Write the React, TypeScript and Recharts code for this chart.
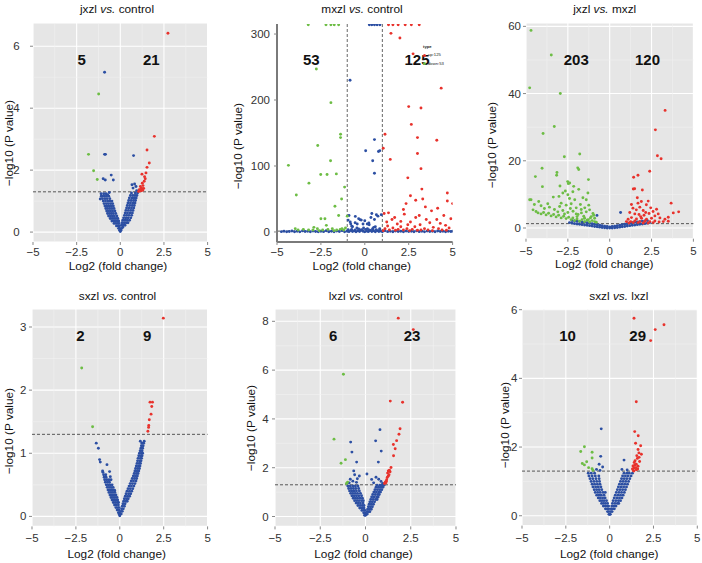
import React from 'react';
import { ScatterChart, Scatter, XAxis, YAxis, CartesianGrid, ReferenceLine } from 'recharts';

type P = [number, number];

const BLUE = '#2c4fa3';
const GREEN = '#6dbd45';
const RED = '#e8322c';
const FONT = '"Liberation Sans", Arial, Helvetica, sans-serif';

// ---------- shared axis values ----------
const xTicks = [-5, -2.5, 0, 2.5, 5];
const xMinor = [-3.75, -1.25, 1.25, 3.75];

// ---------- Panel 1: jxzl vs. control ----------
const p1Red: P[] = [[2.73,6.42],[1.95,3.09],[1.53,2.65],[1.66,2.23],[1.53,2.09],[1.47,1.91],[1.39,1.79],[1.24,1.87],[1.37,1.64],[1.26,1.58],[1.15,1.47],[1.24,1.4],[1.09,1.37],[1.34,1.41],[1.3,1.5],[1.43,1.72],[1.18,1.33],[1.05,1.31],[1.2,1.42],[1.12,1.36],[1.28,1.35]];
const p1Green: P[] = [[-1.24,4.46],[-1.82,2.51],[-1.53,1.98],[-1.32,1.7]];
const p1Blue: P[] = [
  [-0.9,5.16],[-0.9,2.51],[-0.85,2.51],[0.76,2.47],[-0.98,1.72],[-0.86,1.68],[-0.52,1.84],[-0.4,1.68],[0.67,1.53],[0.82,1.55],[0.9,1.47],[0.73,1.42],[0.94,1.34],[-0.63,1.28],[-0.73,1.21],[-1.09,1.16],[-1.15,1.07],
  [0,0.02],[-0.04,0.06],[0.04,0.06],[-0.1,0.12],[-0.03,0.12],[-0.22,0.2],[-0.12,0.2],[-0.05,0.2],
  [-0.36,0.28],[-0.25,0.28],[-0.15,0.28],[-0.07,0.28],[-0.48,0.36],[-0.37,0.36],[-0.26,0.36],[-0.16,0.36],[-0.09,0.36],
  [-0.58,0.44],[-0.47,0.44],[-0.36,0.44],[-0.25,0.44],[-0.14,0.44],[-0.67,0.52],[-0.56,0.52],[-0.45,0.52],[-0.34,0.52],[-0.2,0.52],
  [-0.73,0.6],[-0.62,0.6],[-0.51,0.6],[-0.4,0.6],[-0.26,0.6],[-0.78,0.68],[-0.67,0.68],[-0.56,0.68],[-0.44,0.68],[-0.31,0.68],
  [-0.83,0.76],[-0.72,0.76],[-0.6,0.76],[-0.48,0.76],[-0.36,0.76],[-0.88,0.84],[-0.76,0.84],[-0.64,0.84],[-0.52,0.84],[-0.4,0.84],
  [-0.93,0.92],[-0.8,0.92],[-0.68,0.92],[-0.55,0.92],[-0.44,0.92],[-0.98,1.0],[-0.85,1.0],[-0.72,1.0],[-0.6,1.0],[-0.48,1.0],
  [-1.02,1.08],[-0.88,1.08],[-0.75,1.08],[-0.6,1.08],[-1.06,1.16],[-0.92,1.16],[-0.8,1.16],[-0.66,1.16],[-1.1,1.24],[-0.95,1.24],[-0.82,1.24],
  [0.08,0.12],[0.14,0.16],[0.07,0.22],[0.17,0.22],[0.27,0.22],[0.1,0.3],[0.22,0.3],[0.34,0.3],[0.44,0.3],
  [0.14,0.38],[0.27,0.38],[0.4,0.38],[0.53,0.38],[0.19,0.46],[0.32,0.46],[0.45,0.46],[0.6,0.46],
  [0.24,0.54],[0.37,0.54],[0.5,0.54],[0.65,0.54],[0.28,0.62],[0.41,0.62],[0.55,0.62],[0.69,0.62],
  [0.32,0.7],[0.46,0.7],[0.6,0.7],[0.73,0.7],[0.36,0.78],[0.5,0.78],[0.64,0.78],[0.77,0.78],
  [0.4,0.86],[0.54,0.86],[0.68,0.86],[0.8,0.86],[0.44,0.94],[0.58,0.94],[0.72,0.94],[0.84,0.94],
  [0.48,1.02],[0.62,1.02],[0.76,1.02],[0.87,1.02],[0.52,1.1],[0.67,1.1],[0.8,1.1],[0.91,1.1],
  [0.58,1.18],[0.72,1.18],[0.84,1.18],[0.95,1.18],[0.64,1.26],[0.86,1.26],[0.99,1.26]
];

// ---------- Panel 2: mxzl vs. control ----------
const p2Green: P[] = [
  [-3.22,314],[-2.21,314],[-1.93,314],[-1.74,314],[-1.49,314],
  [-2.76,247],[-1.93,196],[-1.38,148],[-1.38,143],[-2.68,131],[-1.95,108],[-4.35,101],[-1.62,88],[-2.15,87],[-2.51,87],
  [-3.18,74],[-1.15,68],[-3.9,56],[-1.32,50],[-1.7,39],[-1.49,25],[-2.5,20],[-2.27,20],[-2.19,10],[-2.9,7],[-3.96,5],[-1.0,24],
  [-3.5,4],[-3.2,3],[-2.7,5],[-2.4,3],[-2.1,4],[-1.85,5],[-1.6,3],[-1.4,4],[-1.2,3],[-1.1,6],[-3.8,3],[-2.95,3],[-1.75,2],[-1.3,5],[-2.6,2]
];
const p2Red: P[] = [
  [1.35,314],[1.6,314],[1.9,314],[2.3,314],[2.65,314],[3.1,314],
  [1.49,301],[2.0,294],[2.75,270],[4.35,218],[2.5,190],[3.2,188],[2.65,163],[3.0,143],[4.1,139],[1.15,148],[1.05,127],[1.45,110],
  [3.0,119],[3.2,96],[2.45,82],[3.25,65],[4.7,59],[2.6,55],[3.3,50],[2.9,48],[4.7,47],[2.35,43],[5.0,43],[3.45,38],[4.15,36],
  [2.2,34],[3.8,32],[1.1,28],[1.35,29],[2.25,27],[4.5,25],[3.1,25],[1.7,22],[2.9,22],[4.9,20],[4.1,19],[1.55,19],[3.5,19],
  [2.05,16],[1.25,15],[2.6,15],[3.7,14],[4.3,13],[1.85,12],[2.45,11],[3.15,11],[4.6,10],[1.3,9],[2.05,8],[2.85,8],[3.9,7],
  [1.6,6],[2.4,5],[3.4,5],[4.8,6],[4.2,5],[1.15,5],[1.9,4],[2.7,4],[3.2,3],[4.4,3],[1.4,3],[2.2,3],[3.6,3],
  [1.05,2],[1.75,2.5],[2.55,2],[3.0,2.5],[3.85,2],[4.65,2.5]
];
const p2Blue: P[] = [
  [-0.84,230],[0.05,123],[0.55,140],[0.78,122],[0.85,123],[0.45,108],[0.55,89],
  [0.26,314],[0.4,314],[0.55,314],[0.7,314],[0.86,314],
  [-0.83,15],[-0.54,23.6],[-0.26,18.6],[-0.2,18],[-0.43,12],[0.14,12],[0.23,13.6],[0.66,26],[0.94,26],[0.4,28],[-0.74,8.6],[-0.07,6],[0.51,7],
  [-0.95,18],[-0.7,8],[-0.35,20],[0.0,17],[0.35,22],[0.55,19],[0.75,24],[-0.55,14],[-0.1,12],[0.25,11],[0.6,8],[-0.8,12],[0.45,4],[-0.45,6],[0.15,5],[-0.25,3],[0.85,5],[-0.9,25],
  [-4.75,0.5],[-4.6,1.2],[-4.45,0.3],[-4.3,0.8],[-4.15,1.5],[-4.0,0.4],[-3.85,1.0],[-3.7,0.2],[-3.55,1.6],[-3.4,0.6],[-3.25,1.1],[-3.1,0.3],
  [-2.95,1.4],[-2.8,0.7],[-2.65,0.2],[-2.5,1.2],[-2.35,0.5],[-2.2,1.8],[-2.05,0.3],[-1.9,1.0],[-1.75,0.4],[-1.6,1.5],[-1.45,0.6],[-1.3,2.0],
  [-1.15,0.3],[-1.0,1.2],[-0.9,0.5],[-0.8,2.2],[-0.7,0.8],[-0.6,1.6],[-0.5,0.3],[-0.4,1.9],[-0.3,0.6],[-0.2,2.5],[-0.1,1.0],[0,0.2],
  [0.1,1.4],[0.2,0.5],[0.3,2.2],[0.4,0.8],[0.5,1.6],[0.6,0.3],[0.7,2.0],[0.8,0.7],[0.9,1.3],[1.0,0.4],[1.15,1.8],[1.3,0.5],
  [1.45,1.1],[1.6,0.3],[1.75,1.5],[1.9,0.6],[2.05,1.0],[2.2,0.2],[2.35,1.4],[2.5,0.7],[2.65,1.2],[2.8,0.3],[2.95,1.6],[3.1,0.5],
  [3.25,1.0],[3.4,0.2],[3.55,1.3],[3.7,0.6],[3.85,1.1],[4.0,0.3],[4.15,1.5],[4.3,0.7],[4.45,1.0],[4.6,0.4],[4.75,1.2],[4.9,0.6],[5.0,1.0],
  [-0.95,3.5],[-0.75,4],[-0.55,3],[-0.35,4.5],[-0.15,3.5],[0.05,4],[0.25,3],[0.45,5],[0.65,3.5],[0.85,4]
];

// ---------- Panel 3: jxzl vs. mxzl ----------
const p3Green: P[] = [
  [-4.7,58.8],[-3.49,51.5],[-4.78,41.7],[-2.95,40.0],[-3.31,30.2],[-3.98,28.1],[-2.71,21.2],[-1.79,22.0],[-1.91,17.9],[-1.85,17.4],
  [-4.04,17.8],[-3.15,16.5],[-3.17,15.7],[-4.44,15.3],[-1.27,14.4],[-2.51,13.8],[-2.47,13.2],[-4.02,12.3],[-2.97,12.5],[-4.78,8.4],
  [-4.7,8.4],[-4.24,7.9],[-2.5,9.9],[-2.4,8.8],[-3.37,9.2],[-2.15,12.4],
  [-4.58,5.4],[-4.4,4.9],[-4.28,4.5],[-4.1,4.2],[-3.95,4.6],[-3.8,3.9],[-3.65,4.4],[-3.5,3.6],[-3.35,4.0],[-3.2,3.3],[-3.05,3.8],
  [-2.9,3.0],[-2.75,3.5],[-2.6,2.8],[-2.45,3.2],[-2.3,2.5],[-2.2,3.0],[-2.1,2.2],[-1.95,2.7],[-1.8,2.0],[-1.65,2.5],[-1.5,1.9],
  [-1.35,2.3],[-1.2,1.8],[-1.05,2.2],[-0.9,1.9],[-0.8,1.7],
  [-2.99,6.4],[-2.9,7.4],[-3.03,9.4],[-2.8,10.4],[-2.39,13.4],[-1.69,4.5],[-1.49,6.0],[-1.3,10.4],[-1.4,8.4],[-1.2,5.4],[-1.1,3.4],
  [-0.9,2.9],[-2.09,8.4],[-2.19,5.0],[-1.89,4.0],[-3.6,6.2],[-3.9,5.8],[-4.1,6.6],[-2.6,6.8],[-2.3,7.2],[-2.0,6.0],[-1.75,7.0],
  [-1.6,9.0],[-2.2,10.8],[-1.0,4.3],[-1.55,3.5],[-2.5,4.6],[-2.8,5.2],[-3.3,5.5],[-1.85,11.5],[-2.65,11.0],[-3.7,7.2],[-4.5,7.0],
  [-1.25,6.8],[-0.95,3.8],[-2.35,5.8],[-2.0,4.2],[-1.7,5.5],[-1.4,4.8],[-1.15,3.0],[-3.1,4.8],[-2.7,4.2],[-1.95,3.4],[-1.5,2.9],[-1.28,2.5]
];
const p3Red: P[] = [
  [3.31,35.0],[2.73,29.2],[2.85,21.5],[3.07,20.6],[2.39,16.9],[1.69,15.7],[1.43,15.1],[1.41,11.6],[1.95,11.3],[3.67,7.4],[4.12,4.8],[3.5,3.2],
  [1.49,11.7],[1.69,7.4],[1.89,7.9],[2.19,6.9],[1.39,5.9],[1.59,5.4],[2.59,4.9],[2.3,8.0],[1.8,6.2],[2.0,5.2],[1.2,4.6],[1.5,4.2],
  [1.75,4.0],[2.05,3.8],[2.35,4.3],[2.7,3.6],[3.0,3.0],[3.3,2.6],[2.5,2.9],[2.2,2.6],[1.9,2.9],[1.6,2.7],[1.3,3.1],[1.1,2.6],
  [1.0,1.9],[1.25,1.9],[1.5,2.1],[1.8,1.9],[2.1,2.0],[2.4,1.9],[2.7,2.1],[2.95,1.8],[3.2,1.9],[1.4,1.6],[1.7,1.6],[2.0,1.5],
  [2.3,1.5],[2.6,1.6],[1.15,1.5],[3.8,4.5],[2.8,5.6],[1.3,7.0],[1.65,9.0],[2.45,6.0],[1.85,3.4],[2.15,4.6],[2.9,4.2],[3.5,2.0]
];
const p3Blue: P[] = [
  [0.65,4.6],[-0.76,3.75],
  [-2.4,1.6],[-2.25,1.45],[-2.25,2.2],[-2.1,1.3],[-2.1,2.1],[-1.95,1.2],[-1.95,2.0],[-1.8,1.1],[-1.8,1.9],[-1.65,1.0],[-1.65,1.8],
  [-1.5,0.9],[-1.5,1.7],[-1.35,0.8],[-1.35,1.55],[-1.2,0.7],[-1.2,1.4],[-1.05,0.6],[-1.05,1.25],[-0.9,0.45],[-0.9,1.1],
  [-0.75,0.35],[-0.75,0.95],[-0.6,0.25],[-0.6,0.8],[-0.45,0.15],[-0.45,0.65],[-0.3,0.08],[-0.3,0.55],[-0.15,0.02],[-0.15,0.45],
  [0,0],[0,0.35],[0.15,0.02],[0.15,0.45],[0.3,0.08],[0.3,0.55],[0.45,0.15],[0.45,0.65],[0.6,0.25],[0.6,0.8],[0.75,0.35],[0.75,0.95],
  [0.9,0.45],[0.9,1.1],[1.05,0.6],[1.05,1.25],[1.2,0.7],[1.2,1.4],[1.35,0.8],[1.35,1.55],[1.5,0.9],[1.5,1.7],[1.65,1.0],[1.65,1.8],
  [1.8,1.1],[1.8,1.9],[1.95,1.2],[1.95,2.0],[2.1,1.3],[2.1,2.1],[2.25,1.45],[2.25,2.2],[2.4,1.6]
];

// ---------- Panel 4: sxzl vs. control ----------
const p4Red: P[] = [[2.48,3.14],[1.72,1.81],[1.86,1.81],[1.82,1.74],[1.78,1.62],[1.68,1.53],[1.65,1.44],[1.64,1.41],[1.6,1.35]];
const p4Green: P[] = [[-2.17,2.35],[-1.55,1.42]];
const p4Blue: P[] = [
  [-0.98,0.72],[-0.73,0.82],[-0.58,0.71],[-0.54,0.63],[-0.29,0.41],[-1.11,0.86],[-1.15,0.9],[-1.22,1.08],[-1.34,1.16],[-0.45,0.42],
  [0,0.01],[-0.03,0.03],[-0.08,0.06],[-0.02,0.06],[-0.15,0.1],[-0.05,0.1],[-0.22,0.14],[-0.12,0.14],[-0.04,0.14],
  [-0.3,0.18],[-0.2,0.18],[-0.08,0.18],[-0.37,0.22],[-0.26,0.22],[-0.15,0.22],[-0.07,0.22],[-0.44,0.26],[-0.33,0.26],[-0.22,0.26],[-0.12,0.26],
  [-0.5,0.3],[-0.39,0.3],[-0.28,0.3],[-0.16,0.3],[-0.56,0.34],[-0.45,0.34],[-0.34,0.34],[-0.22,0.34],[-0.62,0.38],[-0.51,0.38],[-0.4,0.38],[-0.28,0.38],
  [-0.67,0.42],[-0.56,0.42],[-0.45,0.42],[-0.33,0.42],[-0.72,0.46],[-0.61,0.46],[-0.5,0.46],[-0.38,0.46],[-0.77,0.5],[-0.66,0.5],[-0.55,0.5],[-0.44,0.5],
  [-0.82,0.54],[-0.7,0.54],[-0.59,0.54],[-0.86,0.58],[-0.74,0.58],[-0.62,0.58],[-0.5,0.58],[-0.89,0.62],[-0.78,0.62],[-0.92,0.66],[-0.8,0.66],[-0.96,0.7],
  [0.03,0.04],[0.08,0.04],[0.06,0.08],[0.14,0.08],[0.1,0.12],[0.2,0.12],[0.14,0.16],[0.26,0.16],[0.18,0.2],[0.3,0.2],
  [0.22,0.24],[0.34,0.24],[0.42,0.24],[0.26,0.28],[0.38,0.28],[0.48,0.28],[0.31,0.32],[0.44,0.32],[0.56,0.32],[0.36,0.36],[0.5,0.36],[0.62,0.36],
  [0.41,0.4],[0.55,0.4],[0.68,0.4],[0.47,0.44],[0.6,0.44],[0.74,0.44],[0.53,0.48],[0.66,0.48],[0.8,0.48],[0.59,0.52],[0.72,0.52],[0.86,0.52],
  [0.65,0.56],[0.78,0.56],[0.92,0.56],[0.71,0.6],[0.84,0.6],[0.96,0.6],[0.77,0.64],[0.89,0.64],[1.0,0.64],[0.82,0.68],[0.94,0.68],[1.04,0.68],
  [0.86,0.72],[0.98,0.72],[1.08,0.72],[0.9,0.76],[1.02,0.76],[1.12,0.76],[0.94,0.8],[1.06,0.8],[1.15,0.8],[0.98,0.84],[1.1,0.84],[1.18,0.84],
  [1.01,0.88],[1.13,0.88],[1.21,0.88],[1.04,0.92],[1.16,0.92],[1.24,0.92],[1.08,0.96],[1.2,0.96],[1.27,0.96],[1.12,1.0],[1.23,1.0],[1.3,1.0],
  [1.16,1.04],[1.27,1.04],[1.2,1.08],[1.3,1.08],[1.23,1.12],[1.33,1.12],[1.26,1.16],[1.36,1.16],[1.17,1.19],[1.39,1.19]
];

// ---------- Panel 5: lxzl vs. control ----------
const p5Red: P[] = [[1.81,8.13],[2.64,7.66],[1.37,4.73],[2.05,4.68],[1.91,3.6],[1.85,3.37],[1.72,3.11],[1.54,2.95],[1.64,2.78],[1.55,2.49],[1.41,2.01],[1.26,1.87],[1.22,1.78],[1.36,1.83],[1.3,1.71],[1.17,1.51],[1.13,1.38],[1.1,1.42],[1.2,1.6],[1.25,1.65],[1.05,1.35],[1.15,1.45],[1.32,1.9]];
const p5Green: P[] = [[-1.22,5.83],[-1.74,3.17],[-1.11,2.33],[-1.35,2.18],[-0.99,1.41],[-1.05,1.35]];
const p5Blue: P[] = [
  [0.8,3.56],[-0.82,3.05],[0.56,3.1],[-0.75,2.64],[0.87,2.68],[-0.49,2.23],[0.71,2.23],[-0.65,1.87],[-0.6,1.71],[-0.34,1.66],[-0.84,1.53],
  [0.08,1.74],[0.34,1.52],[0.58,1.61],[0.73,1.53],[0.86,1.44],[-0.7,1.45],[-0.5,1.4],[0.45,1.38],[0.95,1.35],[-0.9,1.38],[-0.45,1.55],
  [0,0.05],[-0.05,0.05],[-0.1,0.15],[-0.03,0.15],[-0.2,0.25],[-0.1,0.25],[-0.03,0.25],[-0.32,0.35],[-0.2,0.35],[-0.08,0.35],
  [-0.42,0.45],[-0.3,0.45],[-0.18,0.45],[-0.08,0.45],[-0.52,0.55],[-0.4,0.55],[-0.28,0.55],[-0.14,0.55],
  [-0.6,0.65],[-0.48,0.65],[-0.36,0.65],[-0.22,0.65],[-0.12,0.65],[-0.68,0.75],[-0.56,0.75],[-0.44,0.75],[-0.3,0.75],[-0.17,0.75],
  [-0.75,0.85],[-0.63,0.85],[-0.5,0.85],[-0.37,0.85],[-0.22,0.85],[-0.82,0.95],[-0.7,0.95],[-0.57,0.95],[-0.44,0.95],[-0.28,0.95],
  [-0.88,1.05],[-0.76,1.05],[-0.63,1.05],[-0.5,1.05],[-0.34,1.05],[-0.93,1.15],[-0.8,1.15],[-0.67,1.15],[-0.54,1.15],[-0.38,1.15],
  [-0.98,1.25],[-0.84,1.25],[-0.7,1.25],[-0.56,1.25],[-0.42,1.25],
  [0.05,0.1],[0.1,0.1],[0.08,0.2],[0.17,0.2],[0.24,0.2],[0.12,0.3],[0.22,0.3],[0.32,0.3],[0.16,0.4],[0.27,0.4],[0.38,0.4],
  [0.2,0.5],[0.32,0.5],[0.44,0.5],[0.24,0.6],[0.37,0.6],[0.5,0.6],[0.29,0.7],[0.42,0.7],[0.56,0.7],[0.64,0.7],
  [0.34,0.8],[0.48,0.8],[0.62,0.8],[0.7,0.8],[0.4,0.9],[0.54,0.9],[0.68,0.9],[0.76,0.9],[0.46,1.0],[0.6,1.0],[0.73,1.0],[0.83,1.0],
  [0.52,1.1],[0.66,1.1],[0.79,1.1],[0.9,1.1],[0.58,1.2],[0.72,1.2],[0.85,1.2],[0.96,1.2],[0.64,1.28],[0.8,1.28],[0.92,1.28],[1.02,1.28]
];

// ---------- Panel 6: sxzl vs. lxzl ----------
const p6Red: P[] = [[1.39,5.75],[3.1,5.56],[2.6,5.42],[2.34,5.1],[1.52,3.32],[1.43,2.45],[1.63,2.33],[1.48,2.11],[1.77,2.04],[1.62,1.93],[1.67,1.83],[1.81,1.79],[1.58,1.67],[1.71,1.58],[1.52,1.5],[1.43,1.47],[1.62,1.44],[1.39,1.39],[1.35,1.32],[1.52,1.34],[1.3,1.36],[1.45,1.6],[1.55,1.75],[1.4,1.55],[1.68,1.7],[1.33,1.45],[1.5,1.4],[1.6,1.36],[1.38,1.3]];
const p6Green: P[] = [[-1.44,2.01],[-1.65,1.87],[-1.0,1.85],[-1.31,1.57],[-1.0,1.68],[-1.44,1.48],[-1.56,1.52],[-1.0,1.37],[-0.95,1.32],[-1.2,1.4]];
const p6Blue: P[] = [
  [-0.48,2.53],[-0.51,1.73],[0.82,1.62],[-0.6,1.5],[-0.4,1.42],[-0.75,1.35],[-0.55,1.32],[0.7,1.35],[1.0,1.33],
  [0,0.04],[-0.04,0.04],[0.04,0.04],[-0.12,0.12],[-0.04,0.12],[-0.24,0.2],[-0.14,0.2],[-0.05,0.2],
  [-0.36,0.28],[-0.25,0.28],[-0.14,0.28],[-0.06,0.28],[-0.46,0.36],[-0.35,0.36],[-0.24,0.36],[-0.12,0.36],
  [-0.56,0.44],[-0.44,0.44],[-0.32,0.44],[-0.18,0.44],[-0.65,0.52],[-0.53,0.52],[-0.4,0.52],[-0.26,0.52],
  [-0.74,0.6],[-0.61,0.6],[-0.48,0.6],[-0.32,0.6],[-0.82,0.68],[-0.68,0.68],[-0.54,0.68],[-0.38,0.68],[-0.25,0.68],
  [-0.88,0.76],[-0.74,0.76],[-0.6,0.76],[-0.45,0.76],[-0.95,0.84],[-0.8,0.84],[-0.65,0.84],[-0.5,0.84],
  [-1.0,0.92],[-0.86,0.92],[-0.7,0.92],[-0.55,0.92],[-1.06,1.0],[-0.9,1.0],[-0.74,1.0],[-0.58,1.0],
  [-1.12,1.08],[-0.96,1.08],[-0.78,1.08],[-0.6,1.08],[-1.18,1.16],[-1.0,1.16],[-0.82,1.16],[-0.62,1.16],[-1.22,1.24],[-1.05,1.24],[-0.86,1.24],
  [0.06,0.12],[0.14,0.12],[0.08,0.2],[0.18,0.2],[0.27,0.2],[0.12,0.28],[0.24,0.28],[0.36,0.28],
  [0.16,0.36],[0.3,0.36],[0.44,0.36],[0.52,0.36],[0.2,0.44],[0.35,0.44],[0.5,0.44],[0.62,0.44],
  [0.26,0.52],[0.41,0.52],[0.56,0.52],[0.7,0.52],[0.32,0.6],[0.47,0.6],[0.62,0.6],[0.77,0.6],
  [0.38,0.68],[0.53,0.68],[0.68,0.68],[0.84,0.68],[0.44,0.76],[0.59,0.76],[0.74,0.76],[0.9,0.76],
  [0.5,0.84],[0.65,0.84],[0.8,0.84],[0.96,0.84],[0.56,0.92],[0.71,0.92],[0.86,0.92],[1.02,0.92],
  [0.62,1.0],[0.77,1.0],[0.92,1.0],[1.08,1.0],[0.68,1.08],[0.83,1.08],[0.98,1.08],[1.15,1.08],
  [0.74,1.16],[0.9,1.16],[1.05,1.16],[1.22,1.16],[0.82,1.24],[0.98,1.24],[1.12,1.24],[1.3,1.24]
];

// ---------- legend of the mxzl panel ----------
const legendTitle = 'type';
const legendItems: [string, string][] = [['up:125', RED], ['down:53', GREEN]];

// ---------- layout (positions only) ----------
type Cfg = {
  pl: number; pt: number; pr: number; pb: number;
  yDomain: [number, number]; yTicks: number[]; yMinor: number[];
  yGap: number; xGap: number; white?: boolean; vlines?: number[];
  blue: P[]; green: P[]; red: P[];
  title: [string, string]; titlePos: [number, number];
  xLabPos: [number, number]; yLabPos: [number, number];
  nums: [string, number, number][];
};

const panels: Cfg[] = [
  { pl: 32.7, pt: 23.3, pr: 207.3, pb: 242.3, yDomain: [-0.32, 6.75], yTicks: [0, 2, 4, 6], yMinor: [1, 3, 5], yGap: 13.4, xGap: 6.2,
    blue: p1Blue, green: p1Green, red: p1Red, title: ['jxzl', 'control'], titlePos: [117, 9.5],
    xLabPos: [118, 266.7], yLabPos: [10, 143], nums: [['5', 81.7, 58.7], ['21', 151.3, 58.7]] },
  { pl: 276.7, pt: 24.3, pr: 452.3, pb: 242.3, yDomain: [-15.2, 315.2], yTicks: [0, 100, 200, 300], yMinor: [], yGap: 7, xGap: 6.2, white: true, vlines: [-1, 1],
    blue: p2Blue, green: p2Green, red: p2Red, title: ['mxzl', 'control'], titlePos: [362, 9.5],
    xLabPos: [361.8, 266.7], yLabPos: [239, 146], nums: [['53', 311.3, 58.7], ['125', 417, 58.7]] },
  { pl: 526.3, pt: 23.3, pr: 693.7, pb: 239, yDomain: [-3.18, 61.0], yTicks: [0, 20, 40, 60], yMinor: [10, 30, 50], yGap: 5, xGap: 7.9,
    blue: p3Blue, green: p3Green, red: p3Red, title: ['jxzl', 'mxzl'], titlePos: [604.7, 10],
    xLabPos: [604.3, 265], yLabPos: [493, 145], nums: [['203', 576.3, 58.7], ['120', 647.5, 58.7]] },
  { pl: 31.7, pt: 309.3, pr: 207.3, pb: 526.7, yDomain: [-0.158, 3.285], yTicks: [0, 1, 2, 3], yMinor: [0.5, 1.5, 2.5], yGap: 5.7, xGap: 7.8,
    blue: p4Blue, green: p4Green, red: p4Red, title: ['sxzl', 'control'], titlePos: [117.5, 297.3],
    xLabPos: [116.7, 555], yLabPos: [10, 431], nums: [['2', 80.5, 335.3], ['9', 147.2, 335.3]] },
  { pl: 274.7, pt: 309.3, pr: 455.7, pb: 526.7, yDomain: [-0.405, 8.505], yTicks: [0, 2, 4, 6, 8], yMinor: [1, 3, 5, 7], yGap: 6.4, xGap: 7.8,
    blue: p5Blue, green: p5Green, red: p5Red, title: ['lxzl', 'control'], titlePos: [365.7, 297.3],
    xLabPos: [363.5, 555], yLabPos: [252.3, 428], nums: [['6', 333.2, 335.3], ['23', 412, 335.3]] },
  { pl: 522, pt: 309.3, pr: 697.3, pb: 525.9, yDomain: [-0.287, 6.02], yTicks: [0, 2, 4, 6], yMinor: [1, 3, 5], yGap: 4.7, xGap: 8.5,
    blue: p6Blue, green: p6Green, red: p6Red, title: ['sxzl', 'lxzl'], titlePos: [618.8, 297.3],
    xLabPos: [609.2, 555], yLabPos: [506.3, 425], nums: [['10', 567.5, 335], ['29', 637.7, 335]] },
];

const R = 1.45;
const dot = (color: string) => (p: any) => <circle cx={p.cx} cy={p.cy} r={R} fill={color} />;
const fmt = (v: number) => String(v).replace('-', '\u2212');
const toObj = (a: P[]) => a.map(([x, y]) => ({ x, y }));

const Txt = ({ x, y, children, size = 11.8, weight = 400, rot = false, color = '#111' }: any) => (
  <div style={{ position: 'absolute', left: x, top: y, transform: `translate(-50%,-50%)${rot ? ' rotate(-90deg)' : ''}`,
    fontSize: size, fontWeight: weight, fontFamily: FONT, whiteSpace: 'nowrap', lineHeight: 1, color }}>{children}</div>
);

const AXW = 45, AXH = 32, MT = 4, MR = 4;

function Panel({ c }: { c: Cfg }) {
  const left = c.pl - AXW;
  const top = c.pt - MT;
  const width = c.pr - left + MR;
  const height = c.pb + AXH - top;
  const tickStyle = { fontSize: 11.5, fill: '#333', fontFamily: FONT };
  const axisLine = c.white ? { stroke: '#7a7a7a', strokeWidth: 2 } : false;
  return (
    <>
      <div style={{ position: 'absolute', left, top, width, height }}>
        <ScatterChart width={width} height={height} margin={{ top: MT, right: MR, left: 0, bottom: 0 }}>
          {c.white ? null : <CartesianGrid fill="#e6e6e6" stroke="#ffffff" strokeWidth={1.1} />}
          {c.white ? null : xMinor.map(v => <ReferenceLine key={'xm' + v} x={v} stroke="#f1f1f1" strokeWidth={0.6} />)}
          {c.white ? null : c.yMinor.map(v => <ReferenceLine key={'ym' + v} y={v} stroke="#f1f1f1" strokeWidth={0.6} />)}
          <XAxis type="number" dataKey="x" domain={[-5, 5]} ticks={xTicks} interval={0} allowDataOverflow height={AXH}
            tickFormatter={fmt} tick={tickStyle} tickSize={3} tickMargin={c.xGap - 3}
            tickLine={{ stroke: '#888' }} axisLine={axisLine as any} />
          <YAxis type="number" dataKey="y" domain={c.yDomain} ticks={c.yTicks} interval={0} allowDataOverflow width={AXW}
            tickFormatter={fmt} tick={tickStyle} tickSize={3} tickMargin={c.yGap - 3}
            tickLine={{ stroke: '#888' }} axisLine={axisLine as any} />
          <Scatter data={toObj(c.blue)} shape={dot(BLUE)} isAnimationActive={false} />
          <Scatter data={toObj(c.green)} shape={dot(GREEN)} isAnimationActive={false} />
          <Scatter data={toObj(c.red)} shape={dot(RED)} isAnimationActive={false} />
          <ReferenceLine y={1.3} stroke="#555" strokeDasharray="3 2" strokeWidth={1} />
          {(c.vlines || []).map(v => <ReferenceLine key={'v' + v} x={v} stroke="#666" strokeDasharray="3 2" strokeWidth={1} />)}
        </ScatterChart>
      </div>
      <Txt x={c.titlePos[0]} y={c.titlePos[1]}>{c.title[0]} <i>vs.</i> {c.title[1]}</Txt>
      <Txt x={c.xLabPos[0]} y={c.xLabPos[1]}>Log2 (fold change)</Txt>
      <Txt x={c.yLabPos[0]} y={c.yLabPos[1]} rot>{'\u2212log10 (P value)'}</Txt>
      {c.nums.map(([s, x, y]) => <Txt key={s} x={x} y={y} size={15} weight={700}>{s}</Txt>)}
    </>
  );
}

export default function App() {
  const lg = { position: 'absolute' as const, fontFamily: FONT, fontSize: 4.2, lineHeight: 1, color: '#222', whiteSpace: 'nowrap' as const };
  return (
    <div style={{ position: 'absolute', left: 0, top: 0, width: 702, height: 563, overflow: 'hidden', background: '#fff' }}>
      {panels.map((c, i) => <Panel key={i} c={c} />)}
      <div style={{ ...lg, left: 423, top: 44.5, fontWeight: 700 }}>{legendTitle}</div>
      {legendItems.map(([s, col], i) => (
        <React.Fragment key={s}>
          <div style={{ position: 'absolute', left: 423, top: 53.5 + i * 8.5, width: 3, height: 3, borderRadius: 2, background: col }} />
          <div style={{ ...lg, left: 428, top: 53 + i * 8.5 }}>{s}</div>
        </React.Fragment>
      ))}
    </div>
  );
}
